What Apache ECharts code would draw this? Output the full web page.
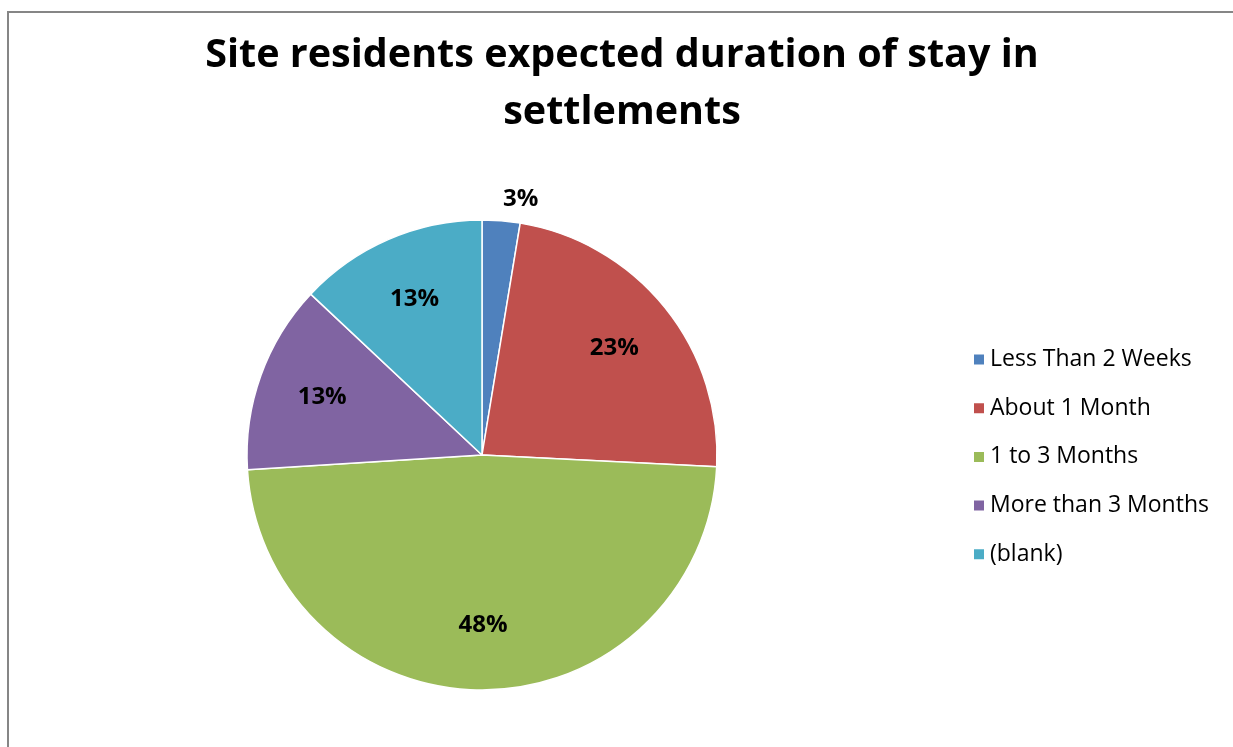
<!DOCTYPE html>
<html><head><meta charset="utf-8">
<script src="https://cdn.jsdelivr.net/npm/echarts@6/dist/echarts.min.js"></script>
<style>html,body{margin:0;padding:0;background:#fff}#c{width:1233px;height:747px}</style>
</head><body><div id="c"></div>
<script>
const titleText = 'Site residents expected duration of stay in\nsettlements';
const categories = ['Less Than 2 Weeks', 'About 1 Month', '1 to 3 Months', 'More than 3 Months', '(blank)'];
const values = [2.6, 23.2, 48.2, 13.0, 13.0];
const colors = ['#4F81BD', '#C0504D', '#9BBB59', '#8064A2', '#4BACC6'];

const chart = echarts.init(document.getElementById('c'));
const data = categories.map((n, i) => ({ name: n, value: values[i], itemStyle: { color: colors[i] } }));
const labelData = categories.map((n, i) => {
  const d = { name: n, value: values[i] };
  if (i === 0) {
    d.label = { position: 'outside', distanceToLabelLine: 0 };
  }
  return d;
});
const center = [482, 455];
const R = 235;
chart.setOption({
  animation: false,
  title: {
    text: titleText, left: 617, top: 22, textAlign: 'center',
    textStyle: { fontFamily: 'Open Sans', fontWeight: 'bold', fontSize: 39.5, lineHeight: 57, color: '#000' }
  },
  graphic: [{ type: 'rect', shape: { x: 8, y: 12, width: 1240, height: 760 }, style: { fill: 'none', stroke: '#868686', lineWidth: 2 }, silent: true }],
  legend: {
    orient: 'vertical', left: 967, top: 343, itemGap: 25.7, itemWidth: 12, itemHeight: 12,
    icon: 'rect', data: categories,
    textStyle: { fontFamily: 'Open Sans', fontSize: 23, color: '#000' }
  },
  series: [{
    type: 'pie', center: center, radius: [0, R], startAngle: 90, clockwise: true,
    data: data, label: { show: false }, labelLine: { show: false },
    itemStyle: { borderColor: '#fff', borderWidth: 1.5 }, percentPrecision: 0
  }, {
    type: 'pie', center: center, radius: [R * 0.42, R], startAngle: 90, clockwise: true,
    data: labelData, silent: true, legendHoverLink: false,
    itemStyle: { color: 'rgba(0,0,0,0)' }, percentPrecision: 0,
    label: { show: true, position: 'inside', formatter: '{d}%', fontFamily: 'Open Sans', fontWeight: 'bold', fontSize: 24, color: '#000' },
    labelLine: { show: false, length: 22, length2: 0 }
  }]
});
</script></body></html>
